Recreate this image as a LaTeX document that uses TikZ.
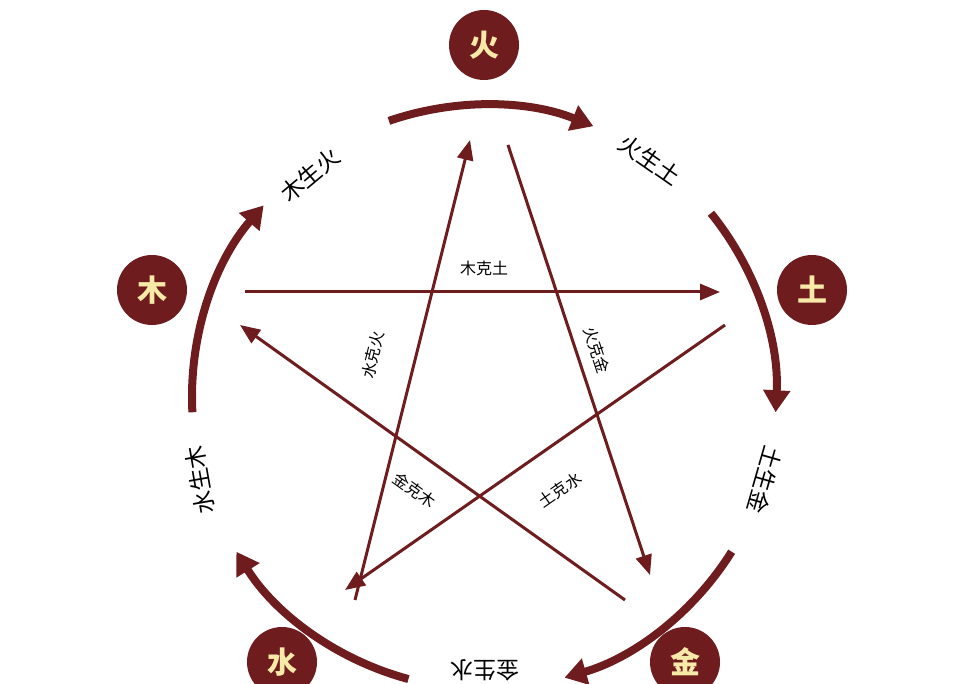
\documentclass[tikz,border=0pt]{standalone}
\usepackage{fontspec}
\newfontfamily\cjk{Noto Sans CJK SC}
\usetikzlibrary{arrows.meta,calc}
\definecolor{mar}{HTML}{6E1C1E}
\definecolor{cream}{HTML}{F7E9A8}
\begin{document}
\begin{tikzpicture}[x=1pt,y=1pt,
 elem/.style={circle,fill=mar,minimum size=70pt,inner sep=0pt,text=cream,font=\cjk\bfseries\fontsize{30}{30}\selectfont},
 gen/.style={font=\cjk\fontsize{23}{23}\selectfont,text=black},
 ke/.style={font=\cjk\fontsize{16}{16}\selectfont,text=black},
 arc/.style={mar,line width=8pt,-{Triangle[length=22pt,width=26pt]}},
 star/.style={mar,line width=3pt,-{Triangle[length=20pt,width=16pt]}}]
\useasboundingbox (0,0) rectangle (965,684);
\fill[white] (0,0) rectangle (965,684);
\coordinate (C) at (484,287);
\def\R{292}
% outer arcs
\draw[arc] ($(C)+(183:\R)$) arc[start angle=183,end angle=139,radius=\R];
\draw[arc] ($(C)+(109:\R)$) arc[start angle=109,end angle=68,radius=\R];
\draw[arc] ($(C)+(39:\R)$) arc[start angle=39,end angle=-3,radius=\R];
\draw[arc] ($(C)+(-32:\R)$) arc[start angle=-32,end angle=-74,radius=\R];
\draw[arc] ($(C)+(-105:\R)$) arc[start angle=-105,end angle=-148,radius=\R];
% nodes
\node[elem] (fire) at (484,639) {火};
\node[elem] (earth) at (812,394) {土};
\node[elem] (metal) at (685,22) {金};
\node[elem] (water) at (282,22) {水};
\node[elem] (wood) at (152,394) {木};
% generation labels
\node[gen,rotate=40] (l1) at (310,509) {木生火};
\node[gen,rotate=-35] (l2) at (650,524) {火生土};
\node[gen,rotate=-106] (l3) at (765,204) {土生金};
\node[gen,rotate=180] (l4) at (485,14) {金生水};
\node[gen,rotate=100] (l5) at (200,204) {水生木};
% star
\coordinate (a1) at (245,392); \coordinate (b1) at (720,392);
\coordinate (a2) at (725,359); \coordinate (b2) at (345,94);
\coordinate (a3) at (355,84);  \coordinate (b3) at (470,544);
\coordinate (a4) at (508,539); \coordinate (b4) at (650,109);
\coordinate (a5) at (625,84);  \coordinate (b5) at (240,359);
\draw[star] (a1) -- (b1);
\draw[star] (a2) -- (b2);
\draw[star] (a3) -- (b3);
\draw[star] (a4) -- (b4);
\draw[star] (a5) -- (b5);
\node[ke] (k1) at (484,416) {木克土};
\node[ke,rotate=-71.7] (k2) at (597,334) {火克金};
\node[ke,rotate=76] (k3) at (373,329) {水克火};
\node[ke,rotate=-35.5] (k4) at (415,194) {金克木};
\node[ke,rotate=35] (k5) at (560,194) {土克水};
\end{tikzpicture}
\end{document}
